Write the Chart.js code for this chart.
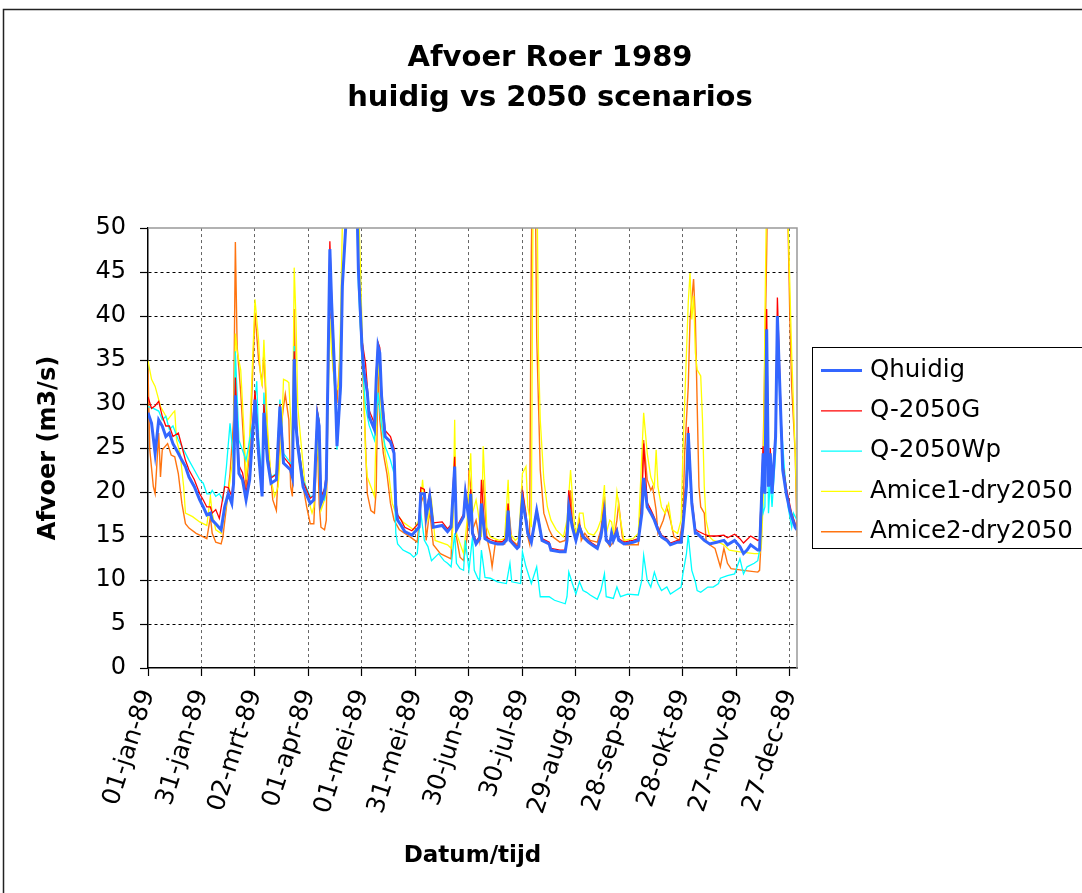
<!DOCTYPE html>
<html>
<head>
<meta charset="utf-8">
<script src="https://cdn.jsdelivr.net/npm/chart.js@4.4.1/dist/chart.umd.min.js"></script>
<style>
  html, body { margin: 0; padding: 0; background: #fff; }
  #wrap { width: 1082px; height: 893px; }
</style>
</head>
<body>
<div id="wrap"><canvas id="c" width="1082" height="893"></canvas></div>
<script>
// Daily discharge of the Roer, 1989: [day of year (0 = 01-jan-89), m3/s]
const qhuidig = [[0,29],[2,27.8],[4,24.4],[6,28.2],[8,27.5],[10,26.3],[12,26.7],[14,25.5],[17,24.4],[19,23.6],[21,22.9],[23,21.7],[26,20.6],[29,19.1],[31,18.3],[33,17.4],[35,17.6],[36,16.8],[38,16.4],[41,15.7],[43,18.3],[45,19.8],[47,18.7],[48,21],[49,31],[51,22.1],[53,21.4],[55,19.1],[57,21.4],[60,30.5],[62,24.4],[64,19.5],[65,29],[67,23.6],[69,21],[72,21.4],[74,29.7],[76,23.3],[80,22.5],[81,21.7],[82,35.1],[83,27.5],[84,25.2],[87,20.6],[91,18.7],[93,19.1],[95,28.6],[96,27.5],[97,18.7],[99,19.8],[100,21.4],[102,47.6],[103,41.5],[105,32],[106,25.2],[108,32],[109,43.4],[111,50.5],[113,58],[117,55],[118,45.3],[120,36.6],[121,33.9],[123,31.3],[124,28.6],[127,27.1],[128,32.8],[129,36.6],[130,35.8],[131,30.9],[133,26.3],[136,25.7],[138,24.4],[139,18.3],[140,16.8],[142,16.2],[144,15.5],[148,15.1],[152,16],[153,19.8],[155,19.8],[156,17.2],[158,19.5],[160,16],[165,16.2],[168,15.5],[170,16],[172,22.9],[173,15.7],[177,17.2],[178,19.8],[180,16.8],[181,19.8],[182,15.3],[184,14.1],[186,14.7],[187,18.7],[189,14.7],[192,14.3],[196,14.1],[199,14.1],[201,14.5],[202,17.9],[203,14.5],[207,13.6],[208,13.8],[210,19.1],[212,16.8],[213,15.3],[215,14.3],[218,17.9],[219,16.8],[221,14.5],[225,14.1],[226,13.4],[231,13.2],[234,13.2],[235,14.5],[236,18.3],[238,16],[240,14.5],[242,16],[244,14.9],[247,14.3],[249,14],[252,13.6],[254,14.9],[256,17.6],[257,14.5],[259,14.1],[260,15.3],[261,14.5],[263,15.5],[264,14.5],[267,14.1],[272,14.3],[275,14.5],[277,17.6],[278,21.6],[280,18.3],[282,17.6],[284,16.8],[286,15.7],[288,14.9],[291,14.5],[293,14],[297,14.3],[299,14.3],[300,16],[302,20.6],[303,26.7],[305,18.7],[307,15.3],[308,15.3],[312,14.5],[315,14.1],[319,14.3],[323,14.5],[325,14],[329,14.5],[332,13.8],[334,13],[336,13.4],[338,14],[342,13.4],[343,13.4],[344,18.7],[345,24.4],[346,19.8],[347,38.5],[348,20.6],[349,24.4],[350,19.8],[352,26.3],[353,40],[355,28.2],[356,22.5],[358,19.8],[360,17.9],[361,17.2],[363,16],[364,15.7]];

const q2050G = [[0,30.8],[2,29.5],[4,29.8],[6,30.3],[8,28.6],[10,27.5],[12,27.5],[14,26.3],[17,26.7],[19,25.2],[21,23.6],[23,22.5],[26,21.4],[29,19.8],[31,19.1],[33,18.3],[35,18.3],[36,17.6],[38,18],[40,17],[43,20.6],[45,20.5],[47,19.5],[48,22],[49,33],[51,23],[53,22.2],[55,20],[57,22.2],[60,31.5],[62,25],[64,20.2],[65,30],[67,24.4],[69,21.6],[72,22],[74,30],[76,24],[80,23],[81,22.4],[82,36],[83,28],[84,26],[87,21.2],[91,19.3],[93,19.6],[95,29.2],[96,28],[97,19.3],[99,20.4],[100,22],[102,48.5],[103,42],[105,32.8],[106,26],[108,32.8],[109,44],[111,50.5],[113,58],[117,55],[118,46],[120,37.3],[122,34.6],[123,32],[124,29.3],[127,27.8],[128,33.5],[129,37],[130,36.4],[131,31.5],[133,27],[136,26.3],[138,25],[139,19],[140,17.4],[142,16.8],[144,16],[148,15.6],[152,16.5],[153,20.5],[155,20.3],[156,17.7],[158,20],[160,16.5],[165,16.6],[168,15.8],[170,16.3],[172,24],[173,16],[177,17.5],[178,20.3],[180,17.2],[181,20.3],[182,15.6],[184,14.4],[186,15],[187,21.4],[189,15],[192,14.6],[196,14.3],[199,14.4],[201,14.8],[202,18.7],[203,14.7],[207,13.8],[208,14],[210,20.2],[212,17.2],[213,15.6],[215,14.6],[218,18],[219,17],[221,14.7],[225,14.3],[226,13.6],[231,13.4],[234,13.4],[235,14.8],[236,20.2],[238,16.3],[240,14.7],[242,16.3],[244,15.1],[247,14.5],[249,14.2],[252,13.8],[254,15.1],[256,18.3],[257,14.7],[259,14.3],[260,15.5],[261,14.7],[263,15.8],[264,14.7],[267,14.3],[272,14.5],[275,14.7],[277,18.5],[278,25.5],[280,18.8],[282,18],[284,17.1],[286,16],[288,15.1],[291,14.7],[293,14.2],[297,14.5],[299,14.6],[300,16.5],[302,22],[303,27.4],[305,19.3],[307,15.8],[308,15.6],[312,15.2],[315,15],[319,15],[323,15.1],[325,14.8],[329,15.2],[332,14.7],[334,14.2],[336,14.6],[338,15],[342,14.5],[343,14.6],[344,20],[345,25.2],[346,20.5],[347,40.8],[348,21.5],[349,25],[350,20.5],[352,27],[353,42.1],[355,29],[356,23.3],[358,20.5],[360,18.5],[361,17.6],[363,16.4],[364,16]];

const q2050Wp = [[0,29.7],[3,29.5],[6,29.2],[8,28.2],[10,28.6],[12,27.1],[14,27.5],[17,25.9],[20,24.8],[23,23.6],[26,22.5],[29,21.4],[31,21],[33,19.8],[35,19.8],[36,20.2],[38,19.5],[40,19.8],[42,19.1],[44,22.9],[46,27.8],[48,23.6],[49,36],[51,25.9],[55,23.6],[59,28.2],[61,32.6],[62,26.3],[64,21.4],[65,31.3],[67,24.4],[69,21.7],[72,22.1],[74,30.5],[76,24.4],[80,23.3],[81,22.9],[82,36.6],[83,28.2],[84,25.9],[87,21.4],[91,19.5],[93,19.5],[95,29.2],[96,28.2],[97,19.5],[99,19.1],[100,21],[102,46.5],[103,41.1],[105,30.1],[106,24.8],[108,31.3],[109,42.7],[111,50.5],[113,57],[117,54],[118,43.4],[120,35.1],[122,29.7],[124,27.6],[127,25.9],[129,31.3],[131,27.5],[133,25.2],[136,23.6],[138,22.1],[139,15.3],[140,14.1],[143,13.4],[147,13],[149,12.6],[151,13],[153,17.6],[155,14.5],[157,13.8],[159,12.2],[163,13],[166,12.2],[168,11.9],[170,11.5],[172,15.3],[173,11.9],[175,11.3],[177,11.1],[178,14.5],[180,11.1],[182,14.9],[183,11.1],[185,10.2],[186,10],[187,13.4],[189,10.3],[192,10.2],[196,9.8],[201,9.6],[203,11.9],[204,9.8],[209,9.6],[210,13.2],[212,11.5],[215,9.6],[218,11.5],[220,8.1],[225,8.1],[228,7.7],[234,7.3],[235,8.1],[236,10.9],[238,9.6],[240,8.4],[242,9.8],[244,8.8],[246,8.6],[248,8.3],[252,7.8],[254,8.8],[256,10.7],[257,8.1],[261,7.9],[263,9.2],[265,8.1],[269,8.4],[275,8.3],[277,10],[278,12.8],[280,10],[282,9.2],[284,10.9],[286,9.6],[288,8.8],[291,9.2],[293,8.4],[296,8.8],[299,9.2],[300,10.7],[302,13],[303,15.1],[305,11.1],[307,9.8],[308,8.8],[310,8.6],[314,9.2],[317,9.2],[320,9.6],[321,10.2],[325,10.5],[329,10.7],[332,12.4],[334,10.7],[336,11.5],[340,11.9],[342,12.2],[343,13.4],[344,20.6],[345,17.6],[346,18.3],[347,33.9],[348,17.6],[349,21.4],[350,18.3],[352,24.4],[353,38.5],[355,28.2],[357,22.5],[359,18.3],[361,16],[362,17.6],[364,16.8]];

const amice1Dry2050 = [[0,34.9],[2,32.8],[4,32],[6,30.5],[7,29.7],[9,29],[11,28.2],[14,29],[15,29.2],[16,25.9],[18,24.4],[20,20.6],[21,17.6],[25,17.2],[29,16.6],[33,16.2],[35,19.5],[36,17.6],[38,15.7],[41,15.3],[43,17.6],[45,19.8],[48,24.4],[49,38],[50,36],[52,33.9],[54,26.3],[55,21.4],[57,26.3],[60,41.9],[62,37.3],[63,33.5],[64,32],[65,37.3],[67,27.5],[69,21.4],[71,19.5],[73,20.6],[75,26.7],[76,32.8],[78,32.6],[79,32.4],[81,24.4],[82,45.5],[83,39.6],[84,29.7],[86,25.2],[88,21],[90,19.1],[92,17.6],[93,18.3],[95,25.9],[96,22.1],[97,17.9],[99,19.1],[100,19.8],[102,39.6],[103,35.8],[105,31.3],[107,32],[108,39.6],[109,50.5],[112,62],[117,60],[119,46.5],[121,32],[122,24.4],[123,21.7],[125,20.6],[127,19.5],[129,35.1],[130,32.8],[131,28.2],[133,24.4],[135,22.1],[137,18.7],[139,17.6],[143,16.6],[149,15.7],[152,16.8],[154,21.4],[155,18.7],[157,16.8],[159,19.1],[161,14.5],[168,14],[170,13.6],[171,16],[172,28.2],[173,15.3],[177,13],[179,16.8],[181,24.4],[182,17.6],[184,19.1],[185,17.9],[187,14.9],[188,25.2],[190,16],[192,14.9],[197,14.5],[200,14.7],[202,21.4],[203,15.3],[206,14.5],[208,14.9],[210,22.1],[212,22.9],[213,18.3],[215,16],[216,55],[218,60],[219,35.8],[220,28.2],[222,21.4],[224,18.3],[226,16.8],[229,15.7],[233,14.9],[235,16.8],[237,22.5],[239,16.8],[240,14.9],[242,17.6],[244,17.6],[245,16],[247,15.3],[250,15.1],[252,15.7],[254,16.8],[256,20.8],[257,15.3],[259,16.8],[260,16.6],[261,15.3],[263,20],[265,16.8],[267,14.5],[272,14.7],[275,15.3],[277,24.4],[278,29],[280,24.4],[282,21.7],[284,20.6],[285,24.8],[286,20.6],[288,18.3],[290,17.6],[292,18.7],[294,15.7],[297,15.3],[299,16.8],[300,24.4],[302,35.8],[303,41.5],[304,44.9],[305,39.6],[306,42.3],[307,35.8],[308,33.9],[310,33.2],[311,28.2],[312,20.6],[313,16.8],[315,14.9],[317,14.5],[320,14.3],[323,14],[326,13.4],[332,13.2],[340,13],[343,13],[344,13.8],[345,18.7],[346,39.6],[347,55],[352,64],[358,58],[360,43.4],[361,35.8],[362,30.1],[363,24.4],[364,17.5]];

const amice2Dry2050 = [[0,33.9],[1,24.8],[3,20.6],[4,19.8],[6,26.7],[7,21.7],[8,24.8],[11,25.5],[13,24.2],[15,24],[17,22.1],[19,18.7],[21,16.4],[23,15.9],[27,15.3],[31,14.9],[33,14.7],[35,17.2],[36,15.3],[38,14.3],[41,14.1],[42,14.9],[44,18.3],[46,22.1],[48,28.2],[49,48.4],[50,36.5],[52,31.3],[54,24.4],[55,20.6],[57,24.4],[59,35.1],[60,40.4],[62,35.1],[64,32.4],[65,35.8],[67,26.3],[69,21.4],[70,19.1],[72,17.9],[74,26.3],[76,29.7],[77,31.1],[79,28.2],[80,20.6],[81,19.5],[82,40.8],[83,30.1],[84,25.2],[85,23.3],[87,20.6],[89,18.3],[91,16.4],[93,16.4],[95,26.3],[96,18.7],[97,16],[99,15.7],[100,16.8],[101,32],[102,40.4],[103,39.6],[104,33.9],[105,32],[106,30.1],[108,36.6],[109,43.4],[110,47.2],[111,51],[113,62],[116,60],[119,39.6],[121,31],[123,19.8],[125,17.9],[127,17.6],[128,20.2],[129,33.9],[130,28.2],[132,24.4],[134,22.1],[136,18.7],[138,16.8],[141,15.7],[147,14.9],[151,14.3],[153,18.7],[155,19.8],[156,14.5],[158,17.9],[160,14],[164,13],[168,12.6],[170,12.4],[172,24.2],[173,14.9],[175,12.6],[177,12.2],[179,14.9],[180,22.5],[181,20.6],[182,15.7],[184,16.8],[186,14.5],[188,21.4],[190,14.9],[192,13],[193,11.5],[195,14.5],[200,14.1],[202,18.7],[204,14.5],[207,14],[208,14.5],[210,20.2],[212,17.6],[213,14.9],[214,14.1],[215,47.2],[216,62],[217,60],[218,37.7],[219,30.1],[220,22.5],[222,17.6],[225,15.7],[227,14.9],[231,14.3],[234,14.5],[236,17.6],[237,20.2],[238,16.8],[240,14.5],[242,16.8],[243,14.5],[245,15.3],[248,14.5],[252,14.3],[254,15.7],[256,19.5],[257,14.5],[259,13.8],[261,14.3],[263,16.8],[264,18.7],[266,14.9],[268,14],[275,14],[277,20.6],[278,25.9],[280,21.4],[282,20.2],[283,20.6],[285,17.9],[286,15.3],[289,16.8],[291,18.3],[293,16.8],[295,14.9],[298,14.5],[300,16.8],[301,24.4],[303,32],[304,39.6],[306,44.2],[307,39.6],[308,30.1],[309,20.6],[310,18.3],[312,17.6],[313,14.5],[315,14],[318,13.6],[321,11.5],[323,13.6],[325,11.9],[327,11.3],[334,11.1],[342,10.9],[343,11.1],[344,14.9],[345,24.4],[346,35.8],[347,47.2],[348,62],[357,60],[359,50],[360,39.6],[361,32],[363,24.4],[364,15]];

// Date axis labels, one every 30 days
const tickDays = [0, 30, 60, 90, 120, 150, 180, 210, 240, 270, 300, 330, 360];
const tickLabels = ['01-jan-89', '31-jan-89', '02-mrt-89', '01-apr-89', '01-mei-89', '31-mei-89', '30-jun-89',
                    '30-jul-89', '29-aug-89', '28-sep-89', '28-okt-89', '27-nov-89', '27-dec-89'];

const seriesNames = ['Qhuidig', 'Q-2050G', 'Q-2050Wp', 'Amice1-dry2050', 'Amice2-dry2050'];
const seriesData = [qhuidig, q2050G, q2050Wp, amice1Dry2050, amice2Dry2050];
const seriesColors = ['#3366FF', '#FF0000', '#00FFFF', '#FFFF00', '#FF7410'];
const seriesWidths = [3, 1.3, 1.3, 1.3, 1.4];

const FONT = 'DejaVu Sans';
Chart.defaults.font.family = FONT;
Chart.defaults.color = '#000';

// white page with the outer chart frame
const frame = {
  id: 'frame',
  beforeDraw(chart) {
    const ctx = chart.ctx;
    ctx.save();
    ctx.fillStyle = '#fff';
    ctx.fillRect(0, 0, chart.width, chart.height);
    ctx.strokeStyle = '#222';
    ctx.lineWidth = 1.5;
    ctx.beginPath();
    ctx.moveTo(3.5, chart.height + 2);
    ctx.lineTo(3.5, 9.5);
    ctx.lineTo(chart.width + 2, 9.5);
    ctx.stroke();
    ctx.restore();
  },
  afterDatasetsDraw(chart) {
    // grey plot border on the top and right side
    const {ctx, chartArea: a} = chart;
    ctx.save();
    ctx.strokeStyle = '#999';
    ctx.lineWidth = 1.5;
    ctx.beginPath();
    ctx.moveTo(a.left, a.top);
    ctx.lineTo(a.right, a.top);
    ctx.lineTo(a.right, a.bottom);
    ctx.stroke();
    ctx.restore();
  }
};

// boxed legend to the right of the plot
const boxLegend = {
  id: 'boxLegend',
  afterDraw(chart) {
    const ctx = chart.ctx;
    const x0 = 812.5, y0 = 347.5, w = 290, h = 201;
    ctx.save();
    ctx.strokeStyle = '#000';
    ctx.lineWidth = 1;
    ctx.strokeRect(x0, y0, w, h);
    ctx.font = '24.5px "' + FONT + '"';
    ctx.textBaseline = 'middle';
    ctx.textAlign = 'left';
    chart.data.datasets.forEach((ds, i) => {
      const y = 370.5 + i * 40.3;
      ctx.strokeStyle = ds.borderColor;
      ctx.lineWidth = ds.borderWidth;
      ctx.beginPath();
      ctx.moveTo(821, y);
      ctx.lineTo(862, y);
      ctx.stroke();
      ctx.fillStyle = '#000';
      ctx.fillText(ds.label, 870, y);
    });
    ctx.restore();
  }
};

const datasets = seriesNames.map((name, i) => ({
  label: name,
  data: seriesData[i].map(([d, v]) => ({x: d, y: v})),
  borderColor: seriesColors[i],
  backgroundColor: seriesColors[i],
  borderWidth: seriesWidths[i],
  pointRadius: 0,
  tension: 0,
  fill: false
}));

new Chart(document.getElementById('c'), {
  type: 'line',
  data: {datasets},
  plugins: [frame, boxLegend],
  options: {
    responsive: false,
    animation: false,
    devicePixelRatio: 1,
    layout: {padding: {left: 18, top: 0, right: 0, bottom: 0}},
    plugins: {
      legend: {display: false},
      tooltip: {enabled: false},
      title: {
        display: true,
        text: ['Afvoer Roer 1989', 'huidig vs 2050 scenarios'],
        color: '#000',
        font: {family: FONT, size: 29, weight: 'bold', lineHeight: 1.38},
        padding: {top: 38.7, bottom: 109.3}
      }
    },
    scales: {
      x: {
        type: 'linear',
        position: 'bottom',
        min: 0,
        max: 364,
        afterBuildTicks: s => { s.ticks = tickDays.map(v => ({value: v})); },
        afterFit: s => { s.height = 225; },
        ticks: {
          autoSkip: false,
          minRotation: 72,
          maxRotation: 72,
          padding: 10,
          color: '#000',
          font: {family: FONT, size: 25},
          callback: v => tickLabels[tickDays.indexOf(v)]
        },
        grid: {
          color: c => (c.tick && c.tick.value === 0) ? 'rgba(0,0,0,0)' : '#666',
          lineWidth: 1,
          tickLength: 8,
          tickColor: '#000',
          tickWidth: 1.2
        },
        border: {display: true, color: '#000', width: 1.5, dash: [3, 3]},
        title: {
          display: true,
          text: 'Datum/tijd',
          color: '#000',
          font: {family: FONT, size: 23, weight: 'bold'},
          padding: {top: 0, bottom: 22.7}
        }
      },
      y: {
        min: 0,
        max: 50,
        afterFit: s => { s.width = 130; },
        ticks: {stepSize: 5, padding: 14, color: '#000', font: {family: FONT, size: 24}},
        grid: {
          color: c => (c.tick && (c.tick.value === 50 || c.tick.value === 0)) ? 'rgba(0,0,0,0)' : '#000',
          lineWidth: 1,
          tickLength: 8,
          tickColor: '#000',
          tickWidth: 1.2
        },
        border: {display: true, color: '#000', width: 1.5, dash: [3, 3]},
        title: {
          display: true,
          text: 'Afvoer (m3/s)',
          color: '#000',
          font: {family: FONT, size: 24, weight: 'bold'},
          padding: {top: 16.6, bottom: 0}
        }
      },
      yR: {
        position: 'right',
        display: true,
        min: 0,
        max: 1,
        afterFit: s => { s.width = 285; },
        ticks: {display: false},
        grid: {display: false, drawTicks: false},
        border: {display: false}
      }
    }
  }
});
</script>
</body>
</html>
